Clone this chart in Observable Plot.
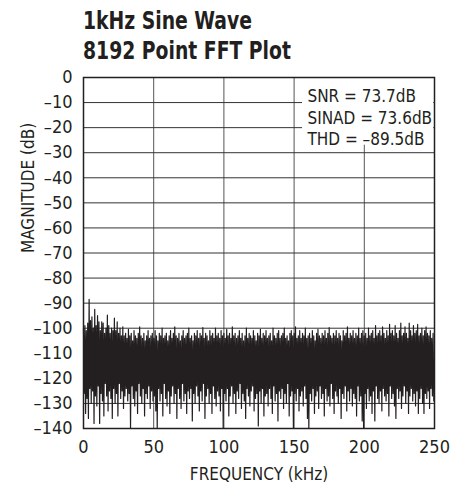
<!DOCTYPE html>
<html>
<head>
<meta charset="utf-8">
<script src="https://cdn.jsdelivr.net/npm/d3@7"></script>
<script src="https://cdn.jsdelivr.net/npm/@observablehq/plot@0.6"></script>
<style>
  body { margin: 0; background: #fff; }
  #title { height: 62px; box-sizing: border-box; padding: 6px 0 0 83px;
    font-family: "DejaVu Sans Condensed", "DejaVu Sans", sans-serif;
    font-weight: bold; font-size: 24px; line-height: 30px; color: #231f20; }
  #title span { display: block; transform: scaleX(0.87); transform-origin: left center; white-space: nowrap; }
</style>
</head>
<body>
<div id="title"><span>1kHz Sine Wave</span><span>8192 Point FFT Plot</span></div>
<div id="chart"></div>
<script>
// Frequency bins (kHz), one per column
const freqStart = 0;
// Per-kHz upper envelope of the FFT trace (dB)
const hi = [
 -100,-99,-101,-98,-88.5,-97,-95.5,-100,-92.5,-99,
 -95,-97.5,-101,-97.5,-98,-102,-100,-94.8,-99,-102,
 -100,-101,-96,-101,-97.5,-102,-100,-103,-99.5,-103,
 -102,-104,-100.5,-103,-102,-105,-101,-103,-104,-102,
 -99.5,-103,-104,-102,-105,-103,-101,-104,-103,-102,
 -104,-101,-103,-105,-102,-103,-100,-104,-103,-102,
 -105,-103,-101,-104,-102,-99.5,-103,-104,-102,-105,
 -103,-101,-104,-103,-102,-100,-104,-103,-105,-102,
 -103,-101,-104,-102,-103,-99.8,-104,-102,-103,-105,
 -101,-103,-102,-104,-100,-103,-102,-104,-101,-103,
 -102,-104,-100.5,-103,-102,-104,-99.5,-103,-102,-104,
 -103,-101,-104,-102,-105,-103,-100,-104,-102,-103,
 -104,-101,-103,-105,-102,-103,-100.5,-104,-102,-103,
 -101,-104,-103,-102,-105,-100,-103,-104,-102,-101,
 -104,-103,-102,-100,-104,-103,-105,-102,-101,-103,
 -102,-99.5,-104,-103,-101,-104,-102,-103,-100,-104,
 -103,-102,-104,-101,-103,-105,-102,-100.5,-103,-104,
 -102,-103,-101,-104,-102,-99.8,-103,-104,-102,-103,
 -101,-104,-102,-103,-105,-101,-103,-102,-99.5,-104,
 -102,-103,-101,-104,-102,-103,-100,-104,-102,-101,
 -103,-102,-104,-100,-103,-102,-101,-104,-99,-103,
 -102,-101,-103,-99.5,-102,-104,-101,-103,-98.5,-102,
 -101,-103,-99,-102,-104,-101,-98,-103,-102,-99.5,
 -102,-104,-98,-101,-103,-99,-102,-101,-98.5,-103,
 -102,-100,-103,-101,-99.5,-102,-103,-101,-104,-102
];
// Per-kHz lower envelope of the FFT trace (dB)
const lo = [
 -126,-134,-128,-136,-124,-130,-125,-138,-127,-131,
 -123,-138,-126,-129,-135,-122,-127,-133,-125,-128,
 -136,-124,-130,-126,-135,-122,-128,-125,-132,-127,
 -124,-129,-126,-140,-123,-128,-131,-125,-134,-122,
 -127,-130,-124,-135,-126,-128,-123,-132,-125,-129,
 -127,-133,-140,-124,-129,-126,-135,-122,-128,-131,
 -125,-134,-127,-123,-130,-126,-136,-124,-128,-132,
 -122,-129,-126,-134,-125,-128,-124,-137,-126,-130,
 -123,-127,-133,-125,-129,-122,-136,-127,-124,-130,
 -126,-134,-123,-128,-131,-125,-127,-133,-124,-140,
 -126,-129,-124,-135,-127,-123,-130,-126,-134,-125,
 -128,-122,-132,-126,-129,-136,-124,-127,-131,-125,
 -123,-133,-128,-126,-139,-125,-130,-124,-135,-127,
 -126,-131,-124,-128,-134,-123,-129,-126,-137,-125,
 -128,-124,-132,-126,-130,-122,-135,-127,-125,-140,
 -126,-129,-124,-133,-127,-125,-131,-123,-128,-136,
 -140,-126,-129,-124,-134,-127,-125,-132,-123,-128,
 -126,-135,-124,-129,-127,-131,-122,-128,-134,-125,
 -127,-130,-124,-136,-126,-128,-123,-133,-125,-129,
 -124,-131,-126,-128,-135,-123,-129,-127,-137,-140,
 -126,-132,-124,-129,-127,-134,-125,-137,-123,-128,
 -130,-125,-133,-124,-127,-129,-126,-135,-123,-128,
 -126,-131,-136,-124,-128,-125,-132,-127,-123,-130,
 -125,-134,-127,-124,-129,-126,-131,-125,-134,-128,
 -124,-130,-134,-126,-128,-125,-132,-124,-127,-129
];
const xTicks = [0, 50, 100, 150, 200, 250];
const yTicks = [0, -10, -20, -30, -40, -50, -60, -70, -80, -90, -100, -110, -120, -130, -140];
const annotationLines = ["SNR = 73.7dB", "SINAD = 73.6dB", "THD = \u201389.5dB"];
// annotation box extent in data units [kHz, dB]
const annotationBox = [{x1: 156, x2: 249.5, y1: -0.4, y2: -27}];
const annotationAnchor = [{x: 159.5, y: -4}];

const trace = [];
hi.forEach((v, i) => {
  trace.push({f: freqStart + i, db: v});
  trace.push({f: freqStart + i + 0.5, db: lo[i]});
});

const font = '"DejaVu Sans Condensed", "DejaVu Sans", sans-serif';
const fmt = d => d < 0 ? "\u2013" + (-d) : String(d);

const plot = Plot.plot({
  width: 463,
  height: 425,
  marginTop: 15,
  marginBottom: 59,
  marginLeft: 83,
  marginRight: 29,
  style: {fontFamily: font, fontSize: "18px", color: "#231f20", background: "#fff"},
  x: {domain: [0, 250], ticks: xTicks, tickFormat: fmt, tickSize: 0, tickPadding: 12, label: null},
  y: {domain: [-140, 0], ticks: yTicks, tickFormat: fmt, tickSize: 0, tickPadding: 11, label: null},
  marks: [
    Plot.ruleX(xTicks.slice(1, -1), {stroke: "#555", strokeWidth: 1}),
    Plot.ruleY(yTicks.slice(1, -1), {stroke: "#333", strokeWidth: 1}),
    Plot.rect(annotationBox, {x1: "x1", x2: "x2", y1: "y1", y2: "y2", fill: "#fff"}),
    Plot.line(trace, {x: "f", y: "db", stroke: "#231f20", strokeWidth: 1.2}),
    Plot.text(annotationAnchor, {x: "x", y: "y", text: () => annotationLines.join("\n"),
      textAnchor: "start", lineAnchor: "top", lineHeight: 1.24, fontSize: 17, fill: "#231f20"}),
    Plot.frame({stroke: "#231f20", strokeWidth: 1.5}),
    Plot.text(["FREQUENCY (kHz)"], {frameAnchor: "bottom", dy: 46, lineAnchor: "middle", fontSize: 17, fill: "#231f20"}),
    Plot.text(["MAGNITUDE (dB)"], {frameAnchor: "left", dx: -55, rotate: -90, lineAnchor: "middle", fontSize: 17, fill: "#231f20"})
  ]
});
document.getElementById("chart").appendChild(plot);
</script>
</body>
</html>
